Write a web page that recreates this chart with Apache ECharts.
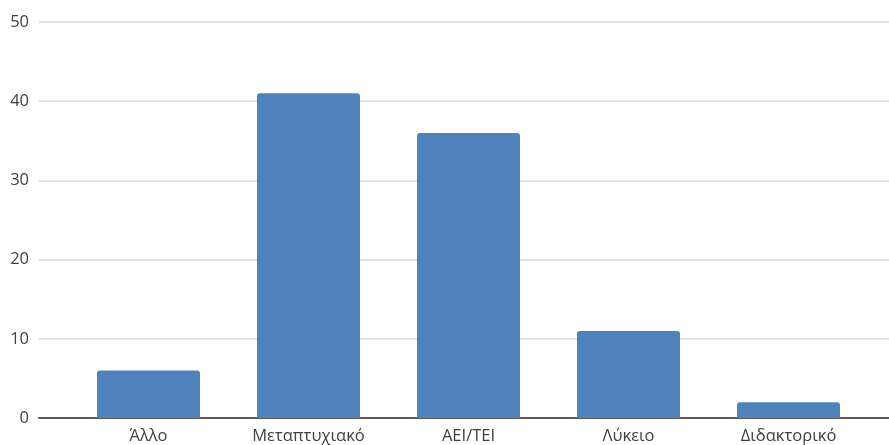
<!DOCTYPE html>
<html><head><meta charset="utf-8">
<script src="https://cdn.jsdelivr.net/npm/echarts@6/dist/echarts.min.js"></script>
<style>html,body{margin:0;padding:0;background:#fff}#c{width:889px;height:445px}</style>
</head><body><div id="c"></div>
<script>
const categories = ['Άλλο', 'Μεταπτυχιακό', 'ΑΕΙ/ΤΕΙ', 'Λύκειο', 'Διδακτορικό'];
const values = [6, 41, 36, 11, 2];
const yMin = 0, yMax = 50, yStep = 10;

const chart = echarts.init(document.getElementById('c'), null, {renderer: 'canvas'});
const font = '"Open Sans", "DejaVu Sans", sans-serif';
chart.setOption({
  animation: false,
  grid: [
    {left: 39, right: 0, top: 22, bottom: 27},
    {left: 68.5, right: 20.5, top: 22, bottom: 27}
  ],
  xAxis: [
    {gridIndex: 0, type: 'category', data: [''], axisLine: {show: true, lineStyle: {color: '#595959', width: 2}},
     axisTick: {show: false}, axisLabel: {show: false}},
    {gridIndex: 1, type: 'category', data: categories, axisLine: {show: false}, axisTick: {show: false},
     axisLabel: {color: '#404040', fontSize: 16.5, fontFamily: font, margin: 10}}
  ],
  yAxis: [
    {gridIndex: 0, type: 'value', min: yMin, max: yMax, interval: yStep,
     axisLine: {show: false}, axisTick: {show: false},
     axisLabel: {color: '#404040', fontSize: 16.5, fontFamily: font, margin: 10},
     splitLine: {lineStyle: {color: '#d9d9d9', width: 1.5}}},
    {gridIndex: 1, type: 'value', min: yMin, max: yMax, interval: yStep, show: false, splitLine: {show: false}}
  ],
  series: [{
    type: 'bar', xAxisIndex: 1, yAxisIndex: 1, data: values, barWidth: 103,
    itemStyle: {color: '#4f81bd', borderRadius: [3, 3, 0, 0]}
  }]
});
</script></body></html>
